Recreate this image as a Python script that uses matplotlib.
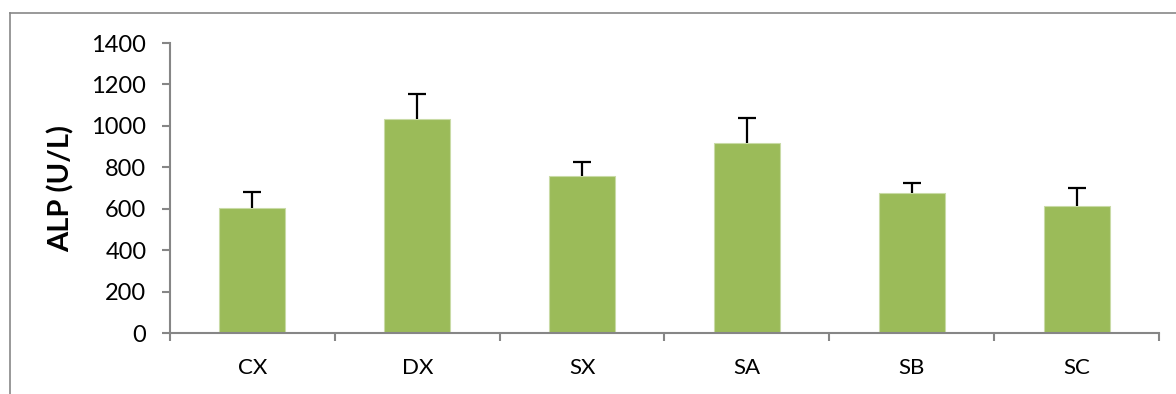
import numpy as np
import matplotlib.pyplot as plt
from matplotlib.lines import Line2D
from matplotlib.ticker import FixedLocator

plt.rcParams['font.family'] = ['Lato', 'DejaVu Sans']

groups = ['CX', 'DX', 'SX', 'SA', 'SB', 'SC']
alp = [602, 1035, 757, 916, 676, 615]
alp_err = [77, 118, 69, 121, 50, 84]
yticks = [0, 200, 400, 600, 800, 1000, 1200, 1400]

axis_grey = '#868686'

fig = plt.figure(figsize=(11.76, 3.94), dpi=100)
ax = fig.add_axes([170/1176, 61/394, 989/1176, 290/394])

x = np.arange(len(groups))
ax.bar(x, alp, width=0.4, color='#9bbb59', edgecolor='#c9dba6', linewidth=0.8, zorder=2)
# upper error bars only
eb = ax.errorbar(x, alp, yerr=[np.zeros(len(alp)), alp_err], fmt='none',
                 ecolor='black', elinewidth=1.6, capsize=6.5, capthick=1.6, zorder=3)
eb[1][0].set_visible(False)

ax.set_xlim(-0.5, len(groups) - 0.5)
ax.set_ylim(0, 1400)
ax.set_yticks(yticks)
ax.set_xticks(x)
ax.set_xticklabels(groups)
ax.xaxis.set_minor_locator(FixedLocator(np.arange(-0.5, len(groups), 1.0)))

for s in ['top', 'right']:
    ax.spines[s].set_visible(False)
for s in ['left', 'bottom']:
    ax.spines[s].set_color(axis_grey)
    ax.spines[s].set_linewidth(1.5)

ax.tick_params(axis='y', length=6, width=1.5, color=axis_grey, labelsize=17, pad=11)
ax.tick_params(axis='x', which='major', length=0, labelsize=16, pad=18)
ax.tick_params(axis='x', which='minor', length=6, width=1.5, color=axis_grey)

ax.set_ylabel('ALP (U/L)', fontsize=21, fontweight='bold', labelpad=12)

# chart area border
fig.add_artist(Line2D([10/1176, 1.0], [1 - 13/394, 1 - 13/394], color='#878787', lw=1.2))
fig.add_artist(Line2D([10/1176, 10/1176], [0, 1 - 13/394], color='#878787', lw=1.2))

fig.savefig('out.png', dpi=100)
